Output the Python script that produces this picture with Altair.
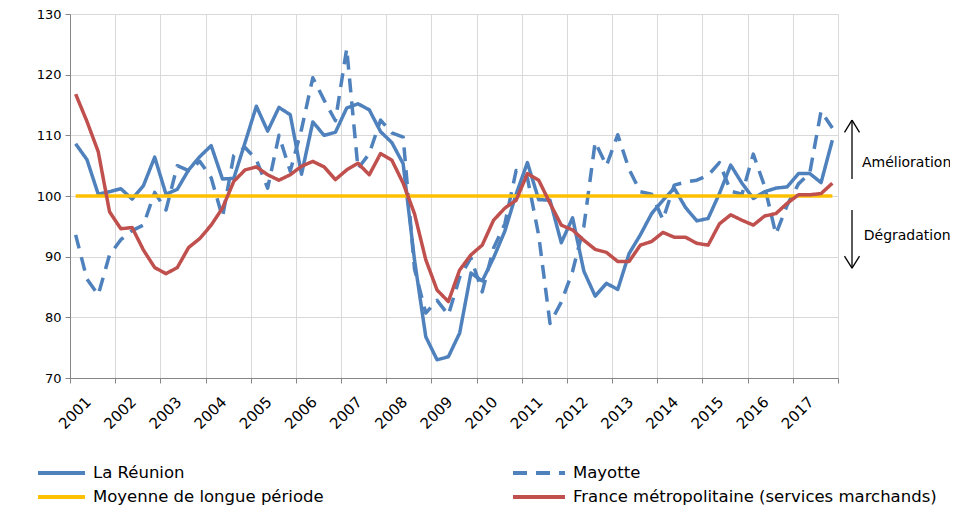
import altair as alt
import pandas as pd

# ---------------- data ----------------
years = list(range(2001, 2018))
quarters = ["T1", "T2", "T3", "T4"]
periods = [f"{y}{q}" for y in years for q in quarters]

reunion = [108.6, 106.0, 100.3, 100.7,
           101.2, 99.5, 101.7, 106.4,
           100.3, 101.1, 104.3, 106.5,
           108.3, 102.8, 102.9, 108.8,
           114.8, 110.7, 114.6, 113.4,
           103.6, 112.2, 110.0, 110.5,
           114.5, 115.2, 114.2, 110.6,
           108.8, 105.3, 89.5, 76.8,
           73.0, 73.5, 77.4, 87.3,
           86.0, 89.8, 94.2, 100.3,
           105.5, 99.4, 99.3, 92.3,
           96.4, 87.6, 83.5, 85.6,
           84.6, 90.5, 93.6, 97.1,
           99.3, 101.3, 98.1, 95.9,
           96.3, 100.4, 105.1, 102.1,
           99.6, 100.7, 101.3, 101.5,
           103.7, 103.7, 102.2, 109.2]

mayotte = [93.6, 86.3, 83.7, 90.3,
           92.8, 94.3, 95.2, 100.6,
           97.7, 105.0, 104.2, 105.7,
           103.0, 96.5, 106.7, 108.0,
           106.0, 101.3, 110.0, 104.1,
           111.0, 119.5, 115.8, 112.4,
           124.3, 104.5, 107.0, 112.5,
           110.4, 109.7, 88.0, 80.7,
           82.8, 80.4, 86.6, 89.8,
           84.2, 91.4, 95.4, 104.2,
           103.0, 93.5, 79.0, 82.5,
           87.6, 95.0, 108.9, 105.0,
           110.1, 104.4, 100.7, 100.3,
           96.1, 101.8, 102.3, 102.6,
           103.4, 105.5, 100.8, 100.3,
           106.9, 101.6, 93.7, 98.5,
           102.0, 103.8, 114.0, 111.2]

moyenne = [100.0] * len(periods)

france = [116.8, 112.3, 107.3, 97.4,
          94.6, 94.8, 91.1, 88.2,
          87.2, 88.2, 91.5, 93.0,
          95.2, 98.0, 102.4, 104.3,
          104.8, 103.5, 102.6, 103.5,
          104.9, 105.7, 104.8, 102.7,
          104.3, 105.4, 103.5, 107.0,
          105.9, 102.1, 97.1, 89.5,
          84.5, 82.6, 87.8, 90.3,
          91.9, 96.0, 98.0, 99.3,
          103.7, 102.6, 98.8, 95.2,
          94.4, 92.7, 91.2, 90.7,
          89.2, 89.2, 91.9, 92.5,
          94.0, 93.2, 93.2, 92.2,
          91.9, 95.4, 96.9, 96.0,
          95.2, 96.7, 97.1, 98.8,
          100.2, 100.2, 100.4, 102.1]

series_names = ["La Réunion", "Mayotte", "Moyenne de longue période",
                "France métropolitaine (services marchands)"]
series_values = [reunion, mayotte, moyenne, france]
series_colors = ["#4F81BD", "#4F81BD", "#FFC000", "#C0504D"]
series_dashes = [[1, 0], [14, 9], [1, 0], [1, 0]]

y_ticks = [70, 80, 90, 100, 110, 120, 130]
x_ticks = list(range(2001, 2019))

# annotation (arrows and words on the right), in data units
arrow_x = 2018.31
arrow_head_dx = 0.166
up_top, up_bottom = 112.5, 102.8
down_top, down_bottom = 97.7, 88.1
head_len = 2.0
note_texts = ["Amélioration", "Dégradation"]
note_x = [2018.53, 2018.57]
note_y = [105.4, 93.4]

# legend layout (pixels relative to the plot area's top-left corner)
legend_sym_x = [-32, 443, -32, 443]
legend_sym_len = [47, 52, 47, 52]
legend_row_y = [459, 459, 483, 483]
legend_label_gap = 8

# ---------------- build ----------------
rows = []
for name, vals in zip(series_names, series_values):
    for p, v in zip(periods, vals):
        rows.append({"period": p, "series": name, "value": v})
df = pd.DataFrame(rows)

FONT = "DejaVu Sans"
GRID = "#D9D9D9"
AXIS = "#868686"

x_scale = alt.Scale(domain=[2001, 2018], nice=False, zero=False)
y_scale = alt.Scale(domain=[70, 130], nice=False, zero=False)

x_axis = alt.Axis(values=x_ticks, format="d",
                  labelExpr="datum.value < 2018 ? datum.label : ''",
                  labelAngle=-45, labelAlign="right", labelBaseline="middle",
                  labelOffset=18, labelPadding=16, labelFlush=False,
                  labelOverlap=False, labelBound=False,
                  labelFont=FONT, labelFontSize=15, labelColor="black",
                  tickSize=5, tickColor=AXIS, domainColor=AXIS,
                  grid=True, gridColor=GRID, title=None)
y_axis = alt.Axis(values=y_ticks, labelFont=FONT, labelFontSize=13,
                  labelColor="black", labelPadding=4, tickSize=5,
                  tickColor=AXIS, domainColor=AXIS, grid=True,
                  gridColor=GRID, title=None)

color_scale = alt.Scale(domain=series_names, range=series_colors)
dash_scale = alt.Scale(domain=series_names, range=series_dashes)

base = alt.Chart(df).transform_calculate(
    t="toNumber(substring(datum.period, 0, 4)) + (toNumber(substring(datum.period, 5, 6)) - 0.5) / 4"
)

layers = []
for name in series_names:
    layers.append(
        base.transform_filter(alt.datum.series == name)
        .mark_line(strokeWidth=3.5, strokeJoin="round")
        .encode(
            x=alt.X("t:Q", scale=x_scale, axis=x_axis),
            y=alt.Y("value:Q", scale=y_scale, axis=y_axis),
            color=alt.Color("series:N", scale=color_scale, legend=None),
            strokeDash=alt.StrokeDash("series:N", scale=dash_scale, legend=None),
        )
    )

seg_df = pd.DataFrame({
    "x1": [arrow_x, arrow_x, arrow_x, arrow_x, arrow_x, arrow_x],
    "y1": [up_top, up_top, up_top, down_bottom, down_bottom, down_bottom],
    "x2": [arrow_x, arrow_x - arrow_head_dx, arrow_x + arrow_head_dx,
           arrow_x, arrow_x - arrow_head_dx, arrow_x + arrow_head_dx],
    "y2": [up_bottom, up_top - head_len, up_top - head_len,
           down_top, down_bottom + head_len, down_bottom + head_len],
})
arrows = alt.Chart(seg_df).mark_rule(color="black", strokeWidth=1.3).encode(
    x=alt.X("x1:Q", scale=x_scale, axis=x_axis),
    y=alt.Y("y1:Q", scale=y_scale, axis=y_axis),
    x2="x2:Q", y2="y2:Q",
)

notes_df = pd.DataFrame({"text": note_texts, "x": note_x, "y": note_y})
notes = alt.Chart(notes_df).mark_text(align="left", baseline="middle",
                                      font=FONT, fontSize=14, color="black").encode(
    x=alt.X("x:Q", scale=x_scale, axis=x_axis),
    y=alt.Y("y:Q", scale=y_scale, axis=y_axis),
    text="text:N",
)

# manual legend (two columns, row-major order like the reference)
legend_layers = []
for name, col, dash, sx, sl, sy in zip(series_names, series_colors, series_dashes,
                                       legend_sym_x, legend_sym_len, legend_row_y):
    one = alt.Chart(pd.DataFrame({"series": [name]}))
    legend_layers.append(
        one.mark_rule(strokeWidth=4, color=col, strokeDash=dash).encode(
            x=alt.value(sx), x2=alt.value(sx + sl), y=alt.value(sy))
    )
    legend_layers.append(
        one.mark_text(align="left", baseline="middle", font=FONT, fontSize=16.5,
                      color="black").encode(
            x=alt.value(sx + sl + legend_label_gap), y=alt.value(sy),
            text="series:N")
    )

chart = alt.layer(*layers, arrows, notes, *legend_layers).properties(
    width=768, height=364,
    padding={"left": 62, "top": 6, "right": 112, "bottom": 129},
    autosize=alt.AutoSizeParams(type="none"),
).configure_view(stroke=None)

chart.save("out.html", embed_options={"renderer": "svg", "actions": False})
